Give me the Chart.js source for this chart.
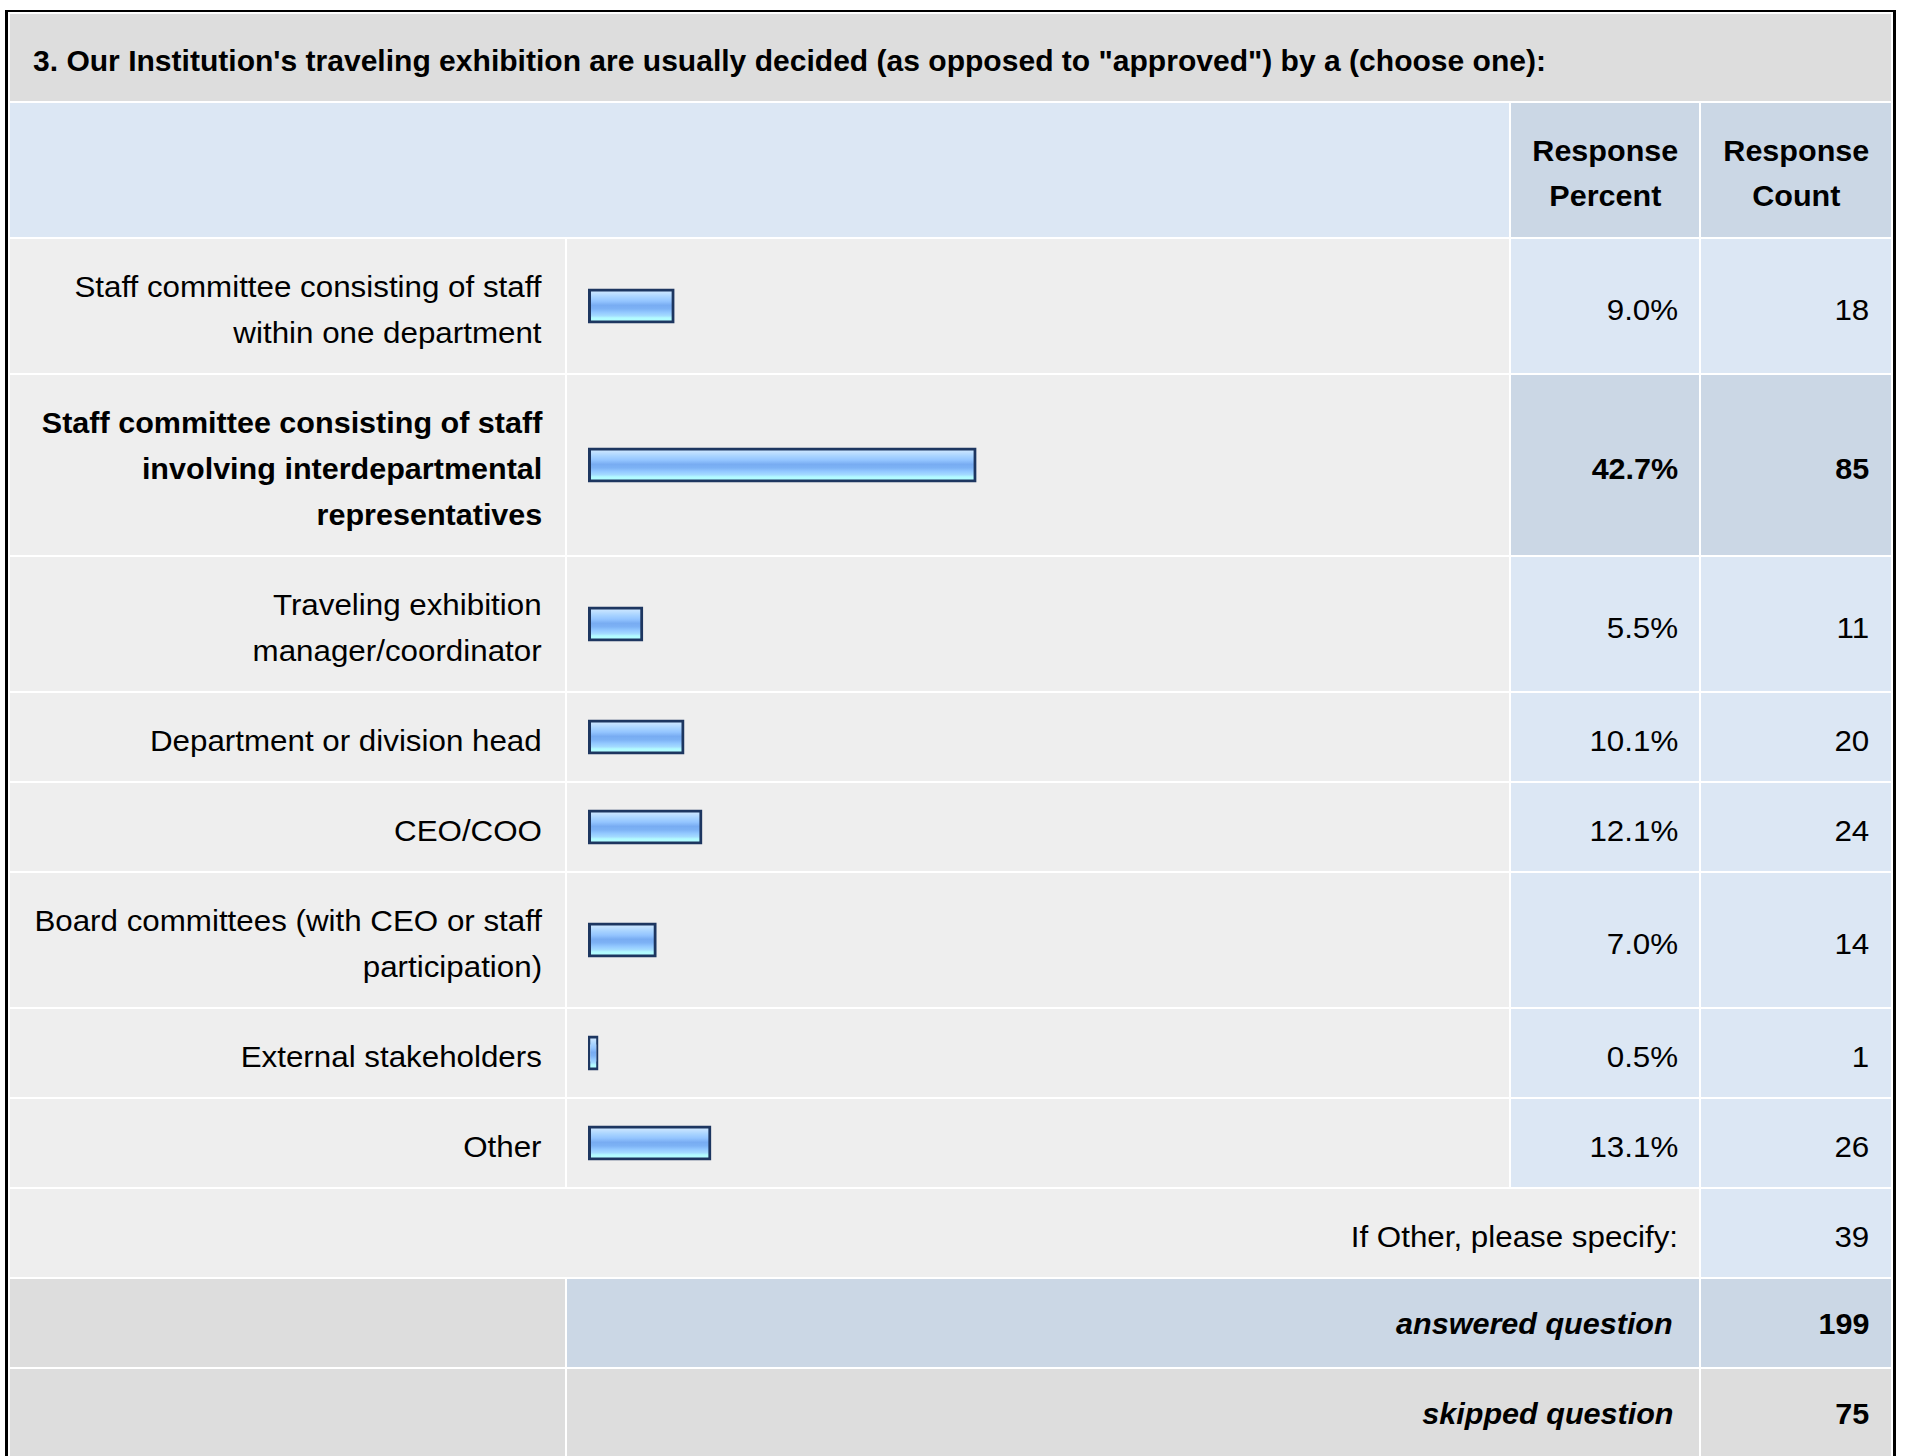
<!DOCTYPE html>
<html>
<head>
<meta charset="utf-8">
<title>Survey question 3</title>
<script src="https://cdn.jsdelivr.net/npm/chart.js@4.4.1/dist/chart.umd.min.js"></script>
<style>
  html, body { margin: 0; padding: 0; background: #fff; }
  body { width: 1907px; height: 1456px; overflow: hidden; position: relative;
         font-family: "Liberation Sans", Arial, Helvetica, sans-serif; color: #000; }
  #frame { position: absolute; left: 5px; top: 10px; width: 1885px; height: 1500px;
           border-left: 3px solid #000; border-right: 3px solid #000; border-top: 2px solid #000; }
  .cell { position: absolute; box-sizing: border-box; display: flex; align-items: center;
          justify-content: flex-end; padding: 0 22px; font-size: 29px; line-height: 46px; }
  .cell .t { transform: translateY(4px) scaleX(1.08); transform-origin: right center; text-align: right; white-space: nowrap; }
  .cell.bold .t { transform: translateY(4px) scaleX(1.053); }
  .cell.bi .t, .cell.foot .t { transform: translateY(1px) scaleX(1.053); }
  .cell.head .t { transform: translateY(1px) scaleX(1.053); }
  .cell.title .t { transform: translateY(3px) scaleX(1.036); }
  .cell canvas { position: absolute; left: 0; top: 0; }
  .bold { font-weight: bold; }
  .bi { font-weight: bold; font-style: italic; }
</style>
</head>
<body>
<div id="frame"></div>
<div id="sheet"></div>
<script>
// Question and answer data
const questionTitle = '3. Our Institution\'s traveling exhibition are usually decided (as opposed to "approved") by a (choose one):';
const categories = [
  ["Staff committee consisting of staff", "within one department"],
  ["Staff committee consisting of staff", "involving interdepartmental", "representatives"],
  ["Traveling exhibition", "manager/coordinator"],
  ["Department or division head"],
  ["CEO/COO"],
  ["Board committees (with CEO or staff", "participation)"],
  ["External stakeholders"],
  ["Other"]
];
const responsePercent = [9.0, 42.7, 5.5, 10.1, 12.1, 7.0, 0.5, 13.1];
const responseCount = [18, 85, 11, 20, 24, 14, 1, 26];
const headerLabels = [["Response", "Percent"], ["Response", "Count"]];
const otherSpecifyLabel = "If Other, please specify:";
const otherSpecifyCount = 39;
const answeredLabel = "answered question";
const answeredCount = 199;
const skippedLabel = "skipped question";
const skippedCount = 75;

// Layout
const COLS = { label: [10, 555], bar: [567, 942], pct: [1511, 188], cnt: [1701, 190] };
const GAP = 2, LINE = 46, ROW_PAD = 42;
const C_TITLE = "#dddddd", C_HEAD = "#dce7f4", C_HEAD2 = "#cbd7e5",
      C_ROW = "#eeeeee", C_VAL = "#dce7f4", C_VAL_HI = "#cbd7e5", C_FOOT = "#dddddd";

const sheet = document.getElementById("sheet");
function cell(x, w, y, h, bg, lines, cls, opts = {}) {
  const d = document.createElement("div");
  d.className = "cell" + (cls ? " " + cls : "");
  Object.assign(d.style, { left: x + "px", top: y + "px", width: w + "px", height: h + "px", background: bg });
  if (opts.justify) d.style.justifyContent = opts.justify;
  if (opts.padL != null) d.style.paddingLeft = opts.padL + "px";
  if (opts.padR != null) d.style.paddingRight = opts.padR + "px";
  if (opts.padT != null) d.style.paddingTop = opts.padT + "px";
  if (lines) {
    const t = document.createElement("div");
    t.className = "t";
    if (opts.align) t.style.textAlign = opts.align;
    if (opts.origin) t.style.transformOrigin = opts.origin;
    if (opts.lh) t.style.lineHeight = opts.lh + "px";
    lines.forEach((ln, i) => { if (i) t.appendChild(document.createElement("br")); t.appendChild(document.createTextNode(ln)); });
    d.appendChild(t);
  }
  sheet.appendChild(d);
  return d;
}

// Title row
let y = 14;
cell(10, 1881, y, 87, C_TITLE, [questionTitle], "bold title", { justify: "flex-start", padL: 23, origin: "left center" });
y += 87 + GAP;

// Header row
const headH = 134;
cell(COLS.label[0], COLS.bar[0] + COLS.bar[1] - COLS.label[0], y, headH, C_HEAD, null);
cell(COLS.pct[0], COLS.pct[1], y, headH, C_HEAD2, headerLabels[0], "bold head", { justify: "center", padL: 0, padR: 0, padT: 6, align: "center", origin: "center center", lh: 45 });
cell(COLS.cnt[0], COLS.cnt[1], y, headH, C_HEAD2, headerLabels[1], "bold head", { justify: "center", padL: 0, padR: 0, padT: 6, align: "center", origin: "center center", lh: 45 });
y += headH + GAP;

// Gradient fill for the bars
function barFill(ctx) {
  const chart = ctx.chart, a = chart.chartArea;
  if (!a) return "#8fc0ff";
  const mid = (a.top + a.bottom) / 2;
  const g = chart.ctx.createLinearGradient(0, mid - 17.5, 0, mid + 17.5);
  g.addColorStop(0.00, "#cfe8ff");
  g.addColorStop(0.12, "#c4e2ff");
  g.addColorStop(0.24, "#a9d4ff");
  g.addColorStop(0.36, "#94c5ff");
  g.addColorStop(0.48, "#78acf2");
  g.addColorStop(0.58, "#7db2f5");
  g.addColorStop(0.68, "#92c8ff");
  g.addColorStop(0.78, "#a4dcff");
  g.addColorStop(0.84, "#b2fbff");
  g.addColorStop(1.00, "#b4ffff");
  return g;
}

const maxPct = Math.max(...responsePercent);
categories.forEach((lines, i) => {
  const h = lines.length * LINE + ROW_PAD;
  const hi = responsePercent[i] === maxPct;
  cell(COLS.label[0], COLS.label[1], y, h, C_ROW, lines, hi ? "bold" : "", { padR: 23 });
  const barCell = cell(COLS.bar[0], COLS.bar[1], y, h, C_ROW, null);
  cell(COLS.pct[0], COLS.pct[1], y, h, hi ? C_VAL_HI : C_VAL, [responsePercent[i].toFixed(1) + "%"], hi ? "bold" : "", { padR: 21 });
  cell(COLS.cnt[0], COLS.cnt[1], y, h, hi ? C_VAL_HI : C_VAL, [String(responseCount[i])], hi ? "bold" : "");

  const cv = document.createElement("canvas");
  cv.width = COLS.bar[1]; cv.height = h;
  barCell.appendChild(cv);
  new Chart(cv, {
    type: "bar",
    data: {
      labels: [lines.join(" ")],
      datasets: [{
        data: [responsePercent[i]],
        backgroundColor: barFill,
        borderColor: "#1d3660",
        borderWidth: 3,
        borderSkipped: false,
        inflateAmount: 3,
        barThickness: 29,
        clip: false
      }]
    },
    options: {
      indexAxis: "y",
      responsive: false,
      animation: false,
      events: [],
      layout: { padding: { left: 24, right: 22, top: 0, bottom: 0 } },
      plugins: { legend: { display: false }, tooltip: { enabled: false } },
      scales: {
        x: { display: false, min: 0, max: 100 },
        y: { display: false }
      }
    }
  });
  y += h + GAP;
});

// Footer rows
const fh = 88;
cell(COLS.label[0], COLS.pct[0] + COLS.pct[1] - COLS.label[0], y, fh, C_ROW, [otherSpecifyLabel], "", { padR: 21 });
cell(COLS.cnt[0], COLS.cnt[1], y, fh, C_VAL, [String(otherSpecifyCount)], "");
y += fh + GAP;
cell(COLS.label[0], COLS.label[1], y, fh, C_FOOT, null);
cell(COLS.bar[0], COLS.pct[0] + COLS.pct[1] - COLS.bar[0], y, fh, C_HEAD2, [answeredLabel], "bi", { padR: 26 });
cell(COLS.cnt[0], COLS.cnt[1], y, fh, C_HEAD2, [String(answeredCount)], "bold foot");
y += fh + GAP;
cell(COLS.label[0], COLS.label[1], y, fh, C_FOOT, null);
cell(COLS.bar[0], COLS.pct[0] + COLS.pct[1] - COLS.bar[0], y, fh, C_FOOT, [skippedLabel], "bi", { padR: 26 });
cell(COLS.cnt[0], COLS.cnt[1], y, fh, C_FOOT, [String(skippedCount)], "bold foot");
</script>
</body>
</html>
